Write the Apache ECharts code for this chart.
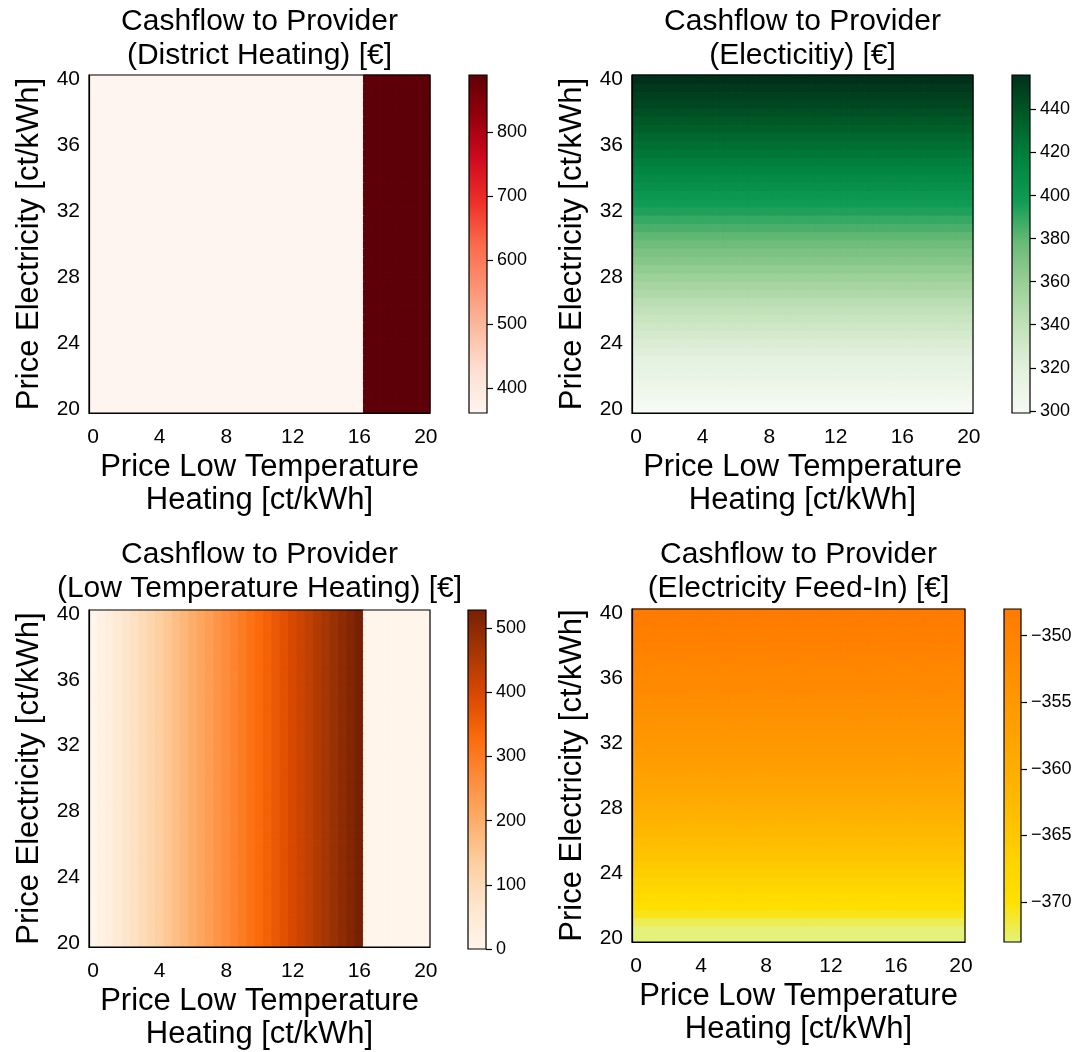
<!DOCTYPE html>
<html>
<head>
<meta charset="utf-8">
<script src="https://cdn.jsdelivr.net/npm/echarts@6/dist/echarts.min.js"></script>
<style>
  html, body { margin: 0; padding: 0; background: #fff; }
  #chart { width: 1079px; height: 1052px; }
</style>
</head>
<body>
<div id="chart"></div>
<script>
// Price grids in ct/kWh (0.5 ct steps)
const heatPrices = ['0','0.5','1','1.5','2','2.5','3','3.5','4','4.5','5','5.5','6','6.5','7','7.5','8','8.5','9','9.5',
  '10','10.5','11','11.5','12','12.5','13','13.5','14','14.5','15','15.5','16','16.5','17','17.5','18','18.5','19','19.5','20'];
const elecPrices = ['20','20.5','21','21.5','22','22.5','23','23.5','24','24.5','25','25.5','26','26.5','27','27.5','28','28.5','29','29.5',
  '30','30.5','31','31.5','32','32.5','33','33.5','34','34.5','35','35.5','36','36.5','37','37.5','38','38.5','39','39.5','40'];

// District heating cashflow [€] per low-temperature heating price (identical for every electricity price)
const districtHeatingByHeatPrice = [
  361,361,361,361,361,361,361,361,361,361,361,
  361,361,361,361,361,361,361,361,361,361,361,
  361,361,361,361,361,361,361,361,361,361,361,
  889,889,889,889,889,889,889,889];

// Electricity cashflow [€] per electricity price (identical for every heating price)
const electricityByElecPrice = [
  299,302,305,308,311,314,317,321,324,328,332,
  336,340,344,349,353,358,362,367,371,376,
  380,385,389,394,398,402,407,411,415,419,
  423,427,431,435,438,442,446,449,452,456];

// Low-temperature heating cashflow [€] per low-temperature heating price
const lowTempByHeatPrice = [
  0,16.5,33,49.5,66,82.5,99,115.5,132,148.5,165,
  181.5,198,214.5,231,247.5,264,280.5,297,313.5,330,346.5,
  363,379.5,396,412.5,429,445.5,462,478.5,495,511.5,528,
  0,0,0,0,0,0,0,0];

// Electricity feed-in cashflow [€] per electricity price
const feedInByElecPrice = [
  -373,-373,-372,-370.5,-369.6,-368.7,-367.8,-366.9,-366,-365.2,-364.4,
  -363.6,-362.8,-362,-361.3,-360.6,-359.9,-359.2,-358.5,-357.9,-357.3,
  -356.7,-356.1,-355.5,-355,-354.5,-354,-353.5,-353,-352.5,-352,
  -351.6,-351.2,-350.8,-350.4,-350,-349.6,-349.2,-348.8,-348.4,-348];

// Colour-bar ranges and ticks
const districtHeatingRange = [361, 889];
const districtHeatingTicks = [400, 500, 600, 700, 800];
const electricityRange = [299, 456];
const electricityTicks = [300, 320, 340, 360, 380, 400, 420, 440];
const lowTempRange = [0, 528];
const lowTempTicks = [0, 100, 200, 300, 400, 500];
const feedInRange = [-373, -348];
const feedInTicks = [-370, -365, -360, -355, -350];

// Colour ramps
const redsColors = ['#fff5f0','#fee0d2','#fcbba1','#fc9272','#fb6a4a','#ee2f27','#d00a1e','#96000c','#5e0008'];
const greensColors = ['#f6faf4','#e3f1dd','#c4e3bc','#9cd198','#6cbb78','#109c55','#00843f','#005c27','#00301a'];
const orangesColors = ['#fff5eb','#fee6ce','#fdd0a2','#fdae6b','#fd8d3c','#fb6a0a','#d94801','#a63603','#772003'];
const wistiaColors = ['#e4f27a','#ffe000','#ffd200','#ffc000','#ffb000','#ffa200','#ff9500','#ff8800','#ff7a00'];

const xName = 'Price Low Temperature\nHeating [ct/kWh]';
const yName = 'Price Electricity [ct/kWh]';
const font = 'Liberation Sans';

const panels = [
  { title: 'Cashflow to Provider\n(District Heating) [€]', values: districtHeatingByHeatPrice, along: 'x',
    range: districtHeatingRange, ticks: districtHeatingTicks, colors: redsColors,
    plot: { left: 89, top: 75, width: 341, height: 338 }, bar: { left: 469, width: 18 }, titleTop: 5 },
  { title: 'Cashflow to Provider\n(Electicitiy) [€]', values: electricityByElecPrice, along: 'y',
    range: electricityRange, ticks: electricityTicks, colors: greensColors,
    plot: { left: 632, top: 75, width: 341, height: 338 }, bar: { left: 1012, width: 18 }, titleTop: 5 },
  { title: 'Cashflow to Provider\n(Low Temperature Heating) [€]', values: lowTempByHeatPrice, along: 'x',
    range: lowTempRange, ticks: lowTempTicks, colors: orangesColors,
    plot: { left: 89, top: 610, width: 341, height: 339 }, bar: { left: 468, width: 18 }, titleTop: 538 },
  { title: 'Cashflow to Provider\n(Electricity Feed-In) [€]', values: feedInByElecPrice, along: 'y',
    range: feedInRange, ticks: feedInTicks, colors: wistiaColors,
    plot: { left: 632, top: 609, width: 333, height: 333 }, bar: { left: 1004, width: 17 }, titleTop: 538 }
];

const option = {
  animation: false,
  backgroundColor: '#fff',
  textStyle: { fontFamily: font },
  title: [], grid: [], xAxis: [], yAxis: [], visualMap: [], series: []
};

const minusSign = v => String(v).replace('-', '\u2212');

// one filled cell per (heating price, electricity price) pair, coloured by the visual map
const renderCell = (params, api) => {
  const center = api.coord([api.value(0), api.value(1)]);
  const size = api.size([1, 1]);
  const col = api.visual('color');
  return {
    type: 'rect',
    shape: { x: center[0] - size[0] / 2, y: center[1] - size[1] / 2, width: size[0], height: size[1] },
    style: { fill: col, stroke: col, lineWidth: 1 }
  };
};

panels.forEach((p, i) => {
  const g = 2 * i, c = 2 * i + 1;

  option.title.push({
    text: p.title, left: p.plot.left + p.plot.width / 2, top: p.titleTop, textAlign: 'center', padding: 0,
    textStyle: { fontSize: 30, lineHeight: 34, fontWeight: 'normal', color: '#000', fontFamily: font }
  });

  // heatmap panel with a full frame drawn above the cells
  option.grid.push({
    left: p.plot.left, top: p.plot.top, width: p.plot.width, height: p.plot.height,
    show: true, borderColor: '#000', borderWidth: 1.2, backgroundColor: 'transparent', z: 5
  });
  // colour bar
  option.grid.push({ left: p.bar.left, top: p.plot.top, width: p.bar.width, height: p.plot.height });

  option.xAxis.push({
    type: 'category', gridIndex: g, data: heatPrices, boundaryGap: true, z: 5,
    name: xName, nameLocation: 'middle', nameGap: 38,
    nameTextStyle: { fontSize: 31, lineHeight: 33, color: '#000', fontFamily: font },
    axisLine: { lineStyle: { color: '#000', width: 1.2 } },
    axisTick: { interval: 7, alignWithLabel: true, length: 6, lineStyle: { color: '#000', width: 1.5 } },
    axisLabel: { interval: 7, fontSize: 21, color: '#000', margin: 14, fontFamily: font },
    splitLine: { show: false }
  });
  option.xAxis.push({ type: 'value', gridIndex: c, min: 0, max: 1, show: false });

  option.yAxis.push({
    type: 'category', gridIndex: g, data: elecPrices, boundaryGap: true, z: 5,
    name: yName, nameLocation: 'middle', nameRotate: 90, nameGap: 44,
    nameTextStyle: { fontSize: 31, color: '#000', fontFamily: font },
    axisLine: { lineStyle: { color: '#000', width: 1.2 } },
    axisTick: { interval: 7, alignWithLabel: true, length: 6, lineStyle: { color: '#000', width: 1.5 } },
    axisLabel: { interval: 7, fontSize: 21, color: '#000', margin: 9, fontFamily: font },
    splitLine: { show: false }
  });
  option.yAxis.push({
    type: 'value', gridIndex: c, position: 'right', min: p.range[0], max: p.range[1], z: 5,
    axisLine: { show: false, onZero: false }, splitLine: { show: false },
    axisTick: { show: true, inside: false, length: 6, customValues: p.ticks, lineStyle: { color: '#000', width: 1.2 } },
    axisLabel: { fontSize: 18, color: '#000', margin: 10, customValues: p.ticks, formatter: minusSign, fontFamily: font }
  });

  const cells = [];
  for (let yi = 0; yi < elecPrices.length; yi++) {
    for (let xi = 0; xi < heatPrices.length; xi++) {
      cells.push([xi, yi, p.along === 'x' ? p.values[xi] : p.values[yi]]);
    }
  }
  option.series.push({
    type: 'custom', xAxisIndex: g, yAxisIndex: g, data: cells, silent: true,
    encode: { x: 0, y: 1 }, renderItem: renderCell
  });

  const stops = p.colors.map((col, k) => ({ offset: k / (p.colors.length - 1), color: col }));
  option.series.push({
    type: 'custom', xAxisIndex: c, yAxisIndex: c, silent: true,
    data: [[0, p.range[0], 1, p.range[1]]],
    renderItem: (params, api) => {
      const lo = api.coord([api.value(0), api.value(1)]);
      const hi = api.coord([api.value(2), api.value(3)]);
      return {
        type: 'rect',
        shape: { x: lo[0], y: hi[1], width: hi[0] - lo[0], height: lo[1] - hi[1] },
        style: { fill: new echarts.graphic.LinearGradient(0, 1, 0, 0, stops), stroke: '#000', lineWidth: 1.2 }
      };
    }
  });

  option.visualMap.push({
    type: 'continuous', show: false, seriesIndex: g, dimension: 2,
    min: p.range[0], max: p.range[1], inRange: { color: p.colors }
  });
});

const chart = echarts.init(document.getElementById('chart'));
chart.setOption(option);
</script>
</body>
</html>
